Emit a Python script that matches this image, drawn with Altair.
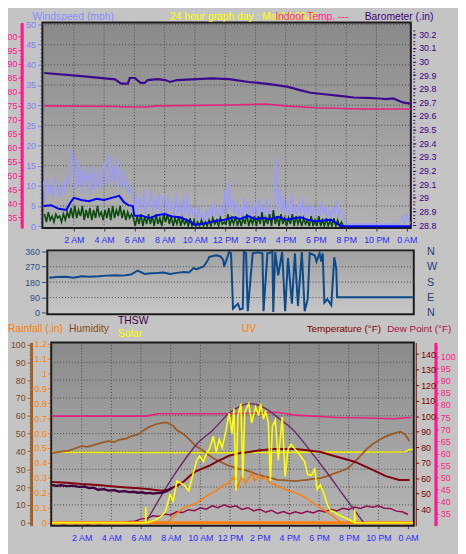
import altair as alt
import pandas as pd

# ===================== DATA =====================
HOUR_TICKS = [2, 4, 6, 8, 10, 12, 14, 16, 18, 20, 22, 24]

# ---- top panel: wind gust (mph), sampled every 7.5 min until 8 PM, then sparse ----
gust_t = [i * 0.125 for i in range(160)] + [20.0, 21.0, 22.0, 23.0, 23.5, 23.7, 23.85, 24.0, 24.15, 24.27]
gust_v = [
    11, 6, 12, 8, 10, 7, 12, 9,
    9, 7, 11, 8, 12, 10, 16, 19,
    12, 9, 17, 10, 14, 8, 15, 11,
    13, 8, 15, 9, 11, 14, 9, 12,
    16, 10, 13, 18, 11, 15, 10, 17,
    12, 9, 14, 10, 11, 8, 10, 7,
    4, 8, 3, 7, 4, 9, 3, 6,
    5, 9, 3, 7, 4, 8, 3, 6,
    8, 3, 7, 4, 6, 2, 8, 3,
    6, 2, 7, 3, 8, 2, 5, 3,
    4, 1, 5, 2, 3, 1, 4, 2,
    5, 2, 6, 3, 4, 2, 5, 3,
    9, 3, 11, 4, 7, 3, 6, 2,
    5, 2, 7, 3, 6, 2, 5, 3,
    6, 2, 7, 3, 5, 2, 7, 3,
    4, 2, 5, 17, 4, 9, 3, 7,
    3, 6, 2, 8, 3, 5, 2, 6,
    3, 7, 2, 5, 3, 6, 2, 4,
    3, 5, 2, 6, 3, 5, 2, 4,
    2, 5, 3, 6, 2, 4, 3, 2,
] + [0.5, 0.5, 0.5, 0.5, 0.5, 2.5, 0.8, 3.0, 1.0, 0.8]

# wind speed (dark green), every 7.5 min
speed_t = [0.0625 + i * 0.125 for i in range(160)]
speed_v = [
    3, 1, 3.5, 1.5, 2.5, 1, 3, 2,
    2.5, 1, 3, 1.5, 3.5, 2, 4.5, 2,
    5, 2, 4, 2.5, 5, 1.5, 4, 2,
    4.5, 1.5, 4, 2, 5, 2.5, 3.5, 1.5,
    4, 2, 4.5, 1.5, 5, 2, 4, 2.5,
    5, 2, 4, 1.5, 3.5, 2, 3, 2,
    0, 2.5, 0.5, 3, 0, 2.5, 0.5, 3,
    0.5, 2.5, 0, 3, 0.5, 2, 0, 3,
    1, 3, 0.5, 2.5, 0, 2, 0.5, 2.5,
    0, 2, 0.5, 1.5, 0, 2, 0, 1.5,
    0, 1, 0, 1.5, 0, 1, 0, 1.5,
    0, 2, 0.5, 1.5, 0, 2, 0.5, 1,
    0.5, 3, 0, 2, 0.5, 2.5, 0, 2,
    0, 2, 0.5, 3, 0, 2, 0.5, 2.5,
    0, 2.5, 0.5, 3.5, 0, 2, 0.5, 3,
    0, 4, 0.5, 2.5, 0, 3, 0.5, 2,
    0, 2, 0.5, 3, 0, 2.5, 0.5, 2,
    0, 2, 0.5, 1.5, 0, 2.5, 0, 1.5,
    0, 2.5, 0, 1.5, 0, 2, 0, 1.5,
    0, 2, 0, 1.5, 0, 1, 0, 0,
]

# average wind (blue)
avg_t = [0, 0.5, 1, 1.5, 1.8, 2, 2.5, 3, 3.5, 4, 4.5, 5, 5.3, 5.6, 5.9, 6.0, 6.5, 7, 7.5, 8,
         8.5, 9, 9.5, 10, 10.5, 11, 11.5, 12, 12.5, 13, 13.5, 14, 14.5, 15, 15.5, 16, 16.5, 17, 17.5, 18,
         18.5, 19, 19.5, 19.7, 24.27]
avg_v = [5.0, 5.2, 4.3, 4.0, 6.0, 7.0, 6.5, 6.2, 6.8, 6.5, 7.0, 7.5, 6.0, 5.2, 5.0, 2.6, 2.6, 2.0, 2.7, 3.0,
         2.4, 2.2, 1.5, 0.3, 0.6, 1.0, 1.4, 1.6, 2.2, 1.8, 2.5, 1.8, 2.0, 1.7, 2.3, 1.6, 1.9, 2.2, 1.5, 1.2,
         1.4, 1.6, 0.4, 0, 0]

# barometer (in)
baro_t = [0.05, 2.52, 4.73, 5.12, 5.57, 5.70, 6.03, 6.23, 6.42, 6.68, 6.88, 7.52, 8.04, 8.36, 8.82, 10.12, 11.09,
          12.26, 13.56, 14.21, 15.18, 16.16, 16.94, 17.65, 18.56, 19.41, 20.51, 21.36, 22.2, 22.65, 23.1, 23.75,
          24.14, 24.27]
baro_v = [29.916, 29.893, 29.869, 29.838, 29.838, 29.879, 29.879, 29.86, 29.843, 29.843, 29.864, 29.871, 29.864,
          29.85, 29.864, 29.871, 29.876, 29.871, 29.85, 29.843, 29.83, 29.814, 29.79, 29.771, 29.76, 29.75, 29.736,
          29.733, 29.729, 29.724, 29.729, 29.70, 29.693, 29.69]

# indoor temperature (F), top panel
itemp_t = [0.05, 4.93, 5.25, 6.88, 7.52, 12.26, 14.66, 15.99, 17.91, 21.16, 24.27]
itemp_v = [75.0, 74.8, 74.6, 74.6, 75.0, 75.3, 75.7, 75.0, 74.3, 73.9, 73.9]

# ---- middle panel: wind direction (deg) ----
wind_dir = [(0.0, 205), (0.5, 210), (1.11, 211), (1.6, 206), (2.16, 214), (2.7, 212), (3.27, 214), (3.8, 218),
            (4.38, 220), (4.9, 218), (5.43, 224), (5.89, 247), (6.34, 228), (6.8, 232), (7.19, 233), (7.6, 236),
            (8.04, 228), (8.5, 234), (8.96, 239), (9.3, 236), (9.61, 262), (9.81, 256), (10.27, 271), (10.5, 300),
            (10.66, 328), (11.12, 337), (11.4, 330), (11.58, 309), (11.64, 271), (11.97, 356), (12.1, 349),
            (12.23, 25), (12.4, 40), (12.56, 54), (12.7, 20), (12.88, 25), (12.95, 356), (13.1, 350), (13.21, 10),
            (13.54, 349), (13.9, 355), (14.19, 349), (14.26, 10), (14.52, 349), (14.85, 356), (14.91, 5),
            (15.04, 356), (15.24, 220), (15.5, 356), (15.7, 10), (15.89, 320), (16.15, 54), (16.35, 349),
            (16.55, 40), (16.81, 356), (17.0, 10), (17.2, 80), (17.33, 349), (17.66, 337), (17.79, 300),
            (17.99, 349), (18.1, 300), (18.2, 349), (18.31, 60), (18.51, 80), (18.77, 45), (18.97, 325),
            (19.1, 260), (19.16, 92), (24.2, 92)]

# ---- bottom panel ----
humidity = [(0.0, 39.0), (0.5, 39.8), (1.1, 40.5), (1.5, 41.5), (2.0, 43.0), (2.4, 42.5), (2.8, 43.5), (3.3, 44.8),
            (3.8, 45.7), (4.2, 45.2), (4.5, 46.5), (5.0, 47.2), (5.3, 48.4), (5.8, 49.5), (6.2, 52.0), (6.5, 53.5),
            (6.8, 54.5), (7.1, 55.5), (7.4, 56.0), (7.7, 56.3), (7.9, 55.5), (8.2, 54.0), (8.4, 52.0), (8.8, 50.0),
            (9.1, 48.0), (9.4, 45.5), (9.7, 43.0), (10.1, 41.0), (10.4, 39.0), (10.9, 36.0), (11.4, 34.0),
            (11.9, 32.0), (12.3, 31.0), (12.6, 30.0), (13.0, 29.5), (13.3, 28.8), (13.8, 27.2), (14.3, 26.0),
            (14.8, 25.0), (15.2, 24.0), (15.8, 23.8), (16.4, 23.4), (16.8, 23.8), (17.2, 24.0), (17.6, 24.6),
            (18.1, 25.0), (18.5, 26.0), (19.0, 27.5), (19.5, 29.0), (19.9, 30.4), (20.2, 32.5), (20.5, 35.0),
            (20.9, 38.5), (21.2, 41.3), (21.6, 44.0), (22.1, 46.7), (22.4, 48.0), (22.7, 49.0), (23.0, 50.0),
            (23.2, 50.5), (23.5, 51.0), (23.8, 49.5), (24.1, 45.7)]
in_humidity = [(0.0, 39.5), (6.0, 39.4), (12.0, 39.3), (18.0, 39.6), (23.8, 39.8), (24.1, 41.0), (24.3, 41.0)]
in_temp2 = [(0.0, 75.4), (6.4, 75.4), (7.1, 76.4), (11.9, 76.4), (13.5, 76.6), (15.2, 77.0), (16.4, 75.8),
            (19.2, 74.8), (21.4, 74.6), (23.0, 74.3), (24.2, 74.8)]
temperature = [(0.0, 57.5), (1.0, 57.0), (2.0, 56.2), (3.1, 55.6), (4.0, 54.8), (5.0, 54.0), (5.8, 53.5),
               (6.4, 53.1), (7.0, 52.4), (7.4, 51.9), (7.8, 52.5), (8.1, 53.8), (8.5, 55.5), (8.9, 58.0),
               (9.3, 61.5), (9.7, 64.4), (10.2, 66.5), (10.6, 68.0), (11.1, 70.6), (11.5, 72.5), (11.9, 74.4),
               (12.6, 76.0), (13.3, 76.9), (14.0, 78.0), (15.0, 78.8), (16.4, 78.8), (17.2, 78.0), (18.1, 76.9),
               (19.2, 73.8), (20.4, 70.6), (21.4, 66.3), (22.5, 61.3), (23.4, 58.8), (24.1, 58.8)]
thsw = [(0.0, 55.6), (0.3, 55.0), (0.6, 55.4), (1.0, 54.9), (1.4, 55.2), (1.8, 54.4), (2.2, 54.6), (2.5, 53.6),
        (2.8, 53.9), (3.1, 52.5), (3.5, 52.9), (3.8, 52.0), (4.2, 52.3), (4.5, 51.3), (4.9, 51.6), (5.2, 51.0),
        (5.5, 51.2), (5.8, 50.6), (6.1, 50.9), (6.3, 50.2), (6.6, 50.5), (6.8, 50.0), (7.1, 50.4), (7.4, 50.6),
        (7.7, 51.4), (7.9, 52.5), (8.1, 53.8)]
dew_t = [i * 0.4 for i in range(61)]
dew_v = [31.0, 31.4, 30.9, 31.3, 31.0, 31.4, 30.9, 31.3, 31.0, 31.5, 31.1, 31.6, 31.3, 31.9, 32.0, 33.0, 33.2,
         34.3, 34.0, 35.0, 34.6, 35.9, 35.6, 36.8, 36.4, 37.6, 37.0, 38.4, 37.6, 38.8, 37.8, 38.4, 36.9, 37.6,
         36.3, 37.0, 35.7, 36.5, 35.2, 36.0, 35.0, 35.9, 35.2, 36.1, 35.4, 36.4, 35.8, 37.0, 36.3, 37.4, 36.9,
         37.9, 37.3, 38.3, 37.8, 38.4, 37.4, 37.3, 36.2, 35.9, 34.8]
solar = [(0.0, 0), (6.31, 0), (6.32, 87), (6.34, 0), (6.64, 5), (6.97, 16), (7.30, 33), (7.63, 60), (7.96, 158),
         (8.16, 120), (8.42, 234), (8.89, 212), (9.22, 179), (9.55, 288), (9.75, 348), (9.95, 375), (10.21, 342),
         (10.41, 390), (10.61, 413), (10.87, 484), (11.07, 397), (11.27, 467), (11.47, 420), (11.74, 522),
         (11.93, 614), (12.13, 500), (12.26, 640), (12.40, 180), (12.53, 600), (12.73, 668), (12.86, 250),
         (12.99, 620), (13.26, 668), (13.46, 560), (13.72, 650), (13.92, 600), (14.06, 668), (14.26, 580),
         (14.39, 630), (14.58, 560), (14.72, 234), (14.85, 540), (15.05, 576), (15.25, 350), (15.52, 592),
         (15.71, 260), (15.91, 413), (16.11, 440), (16.37, 413), (16.70, 380), (17.03, 342), (17.23, 270),
         (17.50, 266), (17.70, 300), (17.88, 185), (18.08, 212), (18.35, 158), (18.55, 103), (18.75, 70),
         (19.02, 60), (19.22, 49), (19.55, 35), (19.88, 22), (20.21, 10), (20.38, 0), (20.41, 76), (20.44, 0),
         (24.3, 0)]
solar_max = [(6.30, 0), (7.10, 114), (8.09, 250), (9.09, 370), (9.75, 440), (10.87, 522), (11.93, 614),
             (12.6, 650), (13.26, 668), (13.9, 660), (14.38, 641), (15.44, 576), (16.24, 522), (17.43, 400),
             (18.36, 300), (19.68, 150), (21.01, 0)]
uv = [(7.76, 0), (8.42, 1.0), (8.89, 1.6), (9.29, 1.8), (9.75, 2.1), (10.21, 2.6), (10.62, 3.0), (11.07, 3.4),
      (11.53, 3.9), (11.93, 4.2), (12.26, 4.8), (12.53, 3.8), (12.79, 4.9), (13.06, 4.2), (13.26, 4.7),
      (13.46, 5.2), (13.66, 4.4), (13.92, 5.0), (14.12, 4.6), (14.38, 4.8), (14.58, 4.4), (14.78, 4.1),
      (15.04, 4.0), (15.44, 3.7), (15.91, 3.4), (16.37, 3.2), (16.77, 2.9), (17.23, 2.5), (17.70, 2.0),
      (18.10, 1.6), (18.56, 1.1), (19.02, 0.6), (19.42, 0.1), (19.7, 0)]
rainfall = [(0.0, 0.0), (24.3, 0.0)]

WIND_TICKS = [0, 5, 10, 15, 20, 25, 30, 35, 40, 45, 50]
ITEMP_TICKS = [35, 40, 45, 50, 55, 60, 65, 70, 75, 80, 85, 90, 95, 100]
BARO_TICKS = [28.8, 28.9, 29.0, 29.1, 29.2, 29.3, 29.4, 29.5, 29.6, 29.7, 29.8, 29.9, 30.0, 30.1, 30.2]
DIR_TICKS = [0, 90, 180, 270, 360]
HUM_TICKS = [0, 10, 20, 30, 40, 50, 60, 70, 80, 90, 100]
RAIN_TICKS = [0, 0.1, 0.2, 0.3, 0.4, 0.5, 0.6, 0.7, 0.8, 0.9, 1.0, 1.1, 1.2]
TEMP_TICKS = [40, 50, 60, 70, 80, 90, 100, 110, 120, 130, 140]
DEW_TICKS = [35, 40, 45, 50, 55, 60, 65, 70, 75, 80, 85, 90, 95, 100]
# minor tick positions
ITEMP_MINOR = [33 + i for i in range(72)]
HUM_MINOR = [i * 2 for i in range(51)]
DEW_MINOR = [31 + i for i in range(74)]
BARO_MINOR = [28.8 + i * 0.025 for i in range(58)]
RAIN_MINOR = [i * 0.025 for i in range(49)]
WIND_MINOR = [i for i in range(51)]

# ===================== LAYOUT =====================
NF = "Liberation Sans Narrow, Liberation Sans, Arial"
TF = "Liberation Sans, Arial"
W, H = 378, 512
K = H / 519.0


def vy(r):
    return (r - 10.0) * K


def vx(r):
    return r - 43.0


def xmap(ha, ra, hb, rb, left, right):
    pa, pb = vx(ra), vx(rb)
    k = (pb - pa) / (hb - ha)
    x0, x1 = vx(left), vx(right)
    return [ha + (x0 - pa) / k, ha + (x1 - pa) / k], [x0, x1]


def ymap(va, ra, vb, rb, top, bottom):
    pa, pb = vy(ra), vy(rb)
    k = (pb - pa) / (vb - va)
    y0, y1 = vy(top), vy(bottom)
    return [va + (y1 - pa) / k, va + (y0 - pa) / k], [y1, y0]


def sc(m):
    return alt.Scale(domain=m[0], range=m[1], nice=False, zero=False)


x_top = xmap(2, 75, 22, 383, 43, 418)
x_dir = xmap(0, 50, 24, 417, 48, 421)
x_bot = xmap(2, 83, 22, 385, 52, 421)
y_wind = ymap(0, 220, 50, 12, 10, 222)
y_itemp = ymap(35, 211, 100, 24, 10, 222)
y_baro = ymap(28.8, 219, 30.2, 22, 10, 222)
y_dir = ymap(0, 309.5, 360, 246, 245, 311)
y_hum = ymap(0, 526, 100, 342, 340, 529)
y_rain = ymap(0, 526, 1.2, 341, 340, 529)
y_temp = ymap(40, 512, 140, 352, 340, 529)
y_dew = ymap(35, 517, 100, 354.5, 340, 529)
y_sol = ymap(0, 526, 1000, 342, 340, 529)
y_uv = ymap(0, 526, 10, 428.1, 340, 529)

TIME_EXPR = ("datum.value == 24 ? '0 AM' : datum.value < 12 ? datum.value + ' AM' : "
             "datum.value == 12 ? '12 PM' : (datum.value - 12) + ' PM'")


def time_axis(offset, pad):
    return alt.Axis(orient='bottom', offset=offset, values=HOUR_TICKS, labelExpr=TIME_EXPR, domain=False,
                    tickColor='#3a3a3a', tickSize=3, labelColor='#2a2aff', labelFont=NF, labelFontSize=9,
                    labelPadding=pad, labelFlush=False, labelOverlap=False, grid=False, title=None)


def yaxis(orient, offset, values, color, tick_color=None, domain=False, dw=1, tsize=4, pad=2, fmt=None,
          font=NF, size=9, expr=None, ticks=True, labels=True):
    kw = dict(orient=orient, offset=offset, values=values, domain=domain, ticks=ticks, labels=labels,
              tickColor=tick_color or color, tickSize=tsize, labelColor=color, labelFont=font,
              labelFontSize=size, labelPadding=pad, labelOverlap=False, grid=False, title=None)
    if domain:
        kw.update(domainColor=color if tick_color is None else tick_color, domainWidth=dw)
    if fmt:
        kw['format'] = fmt
    if expr:
        kw['labelExpr'] = expr
    return alt.Axis(**kw)


def minor(orient, offset, values, color, tsize=2):
    return alt.Axis(orient=orient, offset=offset, values=values, domain=False, labels=False,
                    tickColor=color, tickSize=tsize, grid=False, title=None)


def panel_bg(xm, ym, c_top, c_bot):
    df = pd.DataFrame({'a': [xm[0][0]], 'b': [xm[0][1]], 'c': [ym[0][0]], 'd': [ym[0][1]]})
    grad = alt.LinearGradient(gradient='linear',
                              stops=[alt.GradientStop(color=c_top, offset=0),
                                     alt.GradientStop(color=c_bot, offset=1)],
                              x1=0, x2=0, y1=0, y2=1)
    return alt.Chart(df).mark_rect(fill=grad, stroke='#1c1c1c', strokeWidth=2).encode(
        x=alt.X('a:Q', scale=sc(xm), axis=None), x2='b:Q',
        y=alt.Y('c:Q', scale=sc(ym), axis=None), y2='d:Q')


def hgrid(xm, ym, vals):
    df = pd.DataFrame({'v': vals, 'a': [xm[0][0]] * len(vals), 'b': [xm[0][1]] * len(vals)})
    return alt.Chart(df).mark_rule(color='#4a4a4a', strokeDash=[1, 2], strokeWidth=1).encode(
        y=alt.Y('v:Q', scale=sc(ym), axis=None),
        x=alt.X('a:Q', scale=sc(xm), axis=None), x2='b:Q')


def vgrid(xm, ym, vals):
    df = pd.DataFrame({'v': vals, 'a': [ym[0][0]] * len(vals), 'b': [ym[0][1]] * len(vals)})
    return alt.Chart(df).mark_rule(color='#4a4a4a', strokeDash=[1, 2], strokeWidth=1).encode(
        x=alt.X('v:Q', scale=sc(xm), axis=None),
        y=alt.Y('a:Q', scale=sc(ym), axis=None), y2='b:Q')


def series(t, v, xm, ym, color, width, xaxis=None, yax=None, interp='linear', opacity=1.0):
    df = pd.DataFrame({'t': t, 'v': v})
    return alt.Chart(df).mark_line(color=color, strokeWidth=width, interpolate=interp, opacity=opacity).encode(
        x=alt.X('t:Q', scale=sc(xm), axis=xaxis),
        y=alt.Y('v:Q', scale=sc(ym), axis=yax))


def pairs(p):
    return [a for a, b in p], [b for a, b in p]


def txt(s, x, y, color, size=10.5):
    return alt.Chart(pd.DataFrame({'s': [s]})).mark_text(
        align='left', baseline='alphabetic', font=TF, fontSize=size, color=color).encode(
        text='s:N', x=alt.value(x), y=alt.value(y))


PINK = '#ff1a8c'

layers = [
    panel_bg(x_top, y_wind, '#8a8a8a', '#b2b2b2'),
    panel_bg(x_dir, y_dir, '#a0a0a0', '#c8c8c8'),
    panel_bg(x_bot, y_hum, '#8a8a8a', '#b6b6b6'),
    hgrid(x_top, y_wind, [5, 10, 15, 20, 25, 30, 35, 40, 45, 50]),
    vgrid(x_top, y_wind, [2, 4, 6, 8, 10, 12, 14, 16, 18, 20, 22]),
    hgrid(x_dir, y_dir, [90, 180, 270]),
    hgrid(x_bot, y_hum, [10, 20, 30, 40, 50, 60, 70, 80, 90]),
    vgrid(x_bot, y_hum, [2, 4, 6, 8, 10, 12, 14, 16, 18, 20, 22]),
    # ---- top panel ----
    series(gust_t, gust_v, x_top, y_wind, '#9a9aff', 1.3,
           xaxis=time_axis(vy(222) - H, 5),
           yax=yaxis('left', 1, WIND_TICKS, '#8080ff', tsize=4, pad=2)),
    series(gust_t, gust_v, x_top, y_wind, '#9a9aff', 1, opacity=0.0,
           yax=minor('left', 1, WIND_MINOR, '#8080ff', 2)),
    series(speed_t, speed_v, x_top, y_wind, '#0b4a0b', 1.6),
    series(avg_t, avg_v, x_top, y_wind, '#0000ff', 2),
    series(itemp_t, itemp_v, x_top, y_itemp, '#e8207f', 1.6,
           yax=yaxis('left', -vx(22), ITEMP_TICKS, PINK, domain=True, dw=3, tsize=4, pad=1)),
    series(itemp_t, itemp_v, x_top, y_itemp, '#e8207f', 1, opacity=0.0,
           yax=minor('left', -vx(22), ITEMP_MINOR, PINK, 2)),
    series(baro_t, baro_v, x_top, y_baro, '#3c0a8c', 2.2,
           yax=yaxis('right', vx(420) - W, BARO_TICKS, '#400080', tsize=3, pad=3, fmt='~g')),
    series(baro_t, baro_v, x_top, y_baro, '#3c0a8c', 1, opacity=0.0,
           yax=minor('right', vx(420) - W, BARO_MINOR, '#400080', 2)),
    # ---- direction panel ----
    series(*pairs(wind_dir), x_dir, y_dir, '#0a4a8c', 2,
           yax=yaxis('left', -vx(47), DIR_TICKS, '#2d4f86', tsize=5, pad=2)),
    series(*pairs(wind_dir), x_dir, y_dir, '#0a4a8c', 1, opacity=0.0,
           yax=yaxis('right', vx(421) - W, DIR_TICKS, '#1d3d7d', ticks=False, pad=13, font=TF, size=11,
                     expr="datum.value == 90 ? 'E' : datum.value == 180 ? 'S' : "
                          "datum.value == 270 ? 'W' : 'N'")),
    # ---- bottom panel ----
    series(*pairs(in_humidity), x_bot, y_hum, '#f0f000', 1.6),
    series(*pairs(in_temp2), x_bot, y_dew, '#e8207f', 1.6,
           yax=yaxis('right', vx(443) - W, DEW_TICKS, PINK, domain=True, dw=3, tsize=3, pad=2)),
    series(*pairs(in_temp2), x_bot, y_dew, '#e8207f', 1, opacity=0.0,
           yax=minor('right', vx(443) - W, DEW_MINOR, PINK, 2)),
    series(*pairs(humidity), x_bot, y_hum, '#9c5a26', 1.8,
           xaxis=time_axis(vy(529) - H, 5),
           yax=yaxis('left', -vx(31.5), HUM_TICKS, '#7a4a22', tick_color='#a0602a', domain=True, dw=3,
                     tsize=4, pad=2)),
    series(*pairs(humidity), x_bot, y_hum, '#9c5a26', 1, opacity=0.0,
           yax=minor('left', -vx(31.5), HUM_MINOR, '#a0602a', 2)),
    series(dew_t, dew_v, x_bot, y_dew, '#8e0e4e', 1.5),
    series(*pairs(uv), x_bot, y_uv, '#ff7f00', 1.5),
    series(*pairs(rainfall), x_bot, y_rain, '#ff8000', 3,
           yax=yaxis('left', -vx(51), RAIN_TICKS, '#ff8000', tsize=3, pad=1, fmt='~g')),
    series(*pairs(rainfall), x_bot, y_rain, '#ff8000', 1, opacity=0.0,
           yax=minor('left', -vx(51), RAIN_MINOR, '#ff8000', 1.5)),
    series(*pairs(solar_max), x_bot, y_sol, '#6a2a6a', 1.4, interp='monotone'),
    series(*pairs(temperature), x_bot, y_temp, '#800010', 2,
           yax=yaxis('right', vx(423) - W, TEMP_TICKS, '#800000', domain=True, dw=1, tsize=3, pad=2)),
    series(*pairs(thsw), x_bot, y_temp, '#400040', 2.4),
    series(*pairs(solar), x_bot, y_sol, '#ffff00', 1.6),
    # ---- titles ----
    txt('Windspeed (mph)', vx(33), -2.5, '#8a8aff'),
    txt('24 hour graph day : Mar03 2026', vx(173), -2.5, '#ffff00'),
    txt('Indoor Temp. ---', vx(280), -2.5, '#ff2a8a'),
    txt('Barometer (.in)', vx(371), -2.5, '#400080'),
    txt('Rainfall (.in)', vx(8), vy(329), '#ff8000'),
    txt('Humidity', vx(70), vy(329), '#8a4a14'),
    txt('THSW', vx(120), vy(321), '#400040'),
    txt('Solar', vx(120), vy(334), '#ffff00'),
    txt('UV', vx(246), vy(329), '#ff8000'),
    txt('Temperature (\u00b0F)', vx(312), vy(329), '#800000', 10),
    txt('Dew Point (\u00b0F)', vx(394), vy(329), '#b0103c', 10),
]

chart = alt.layer(*layers).resolve_scale(x='independent', y='independent').properties(
    width=W, height=H,
    autosize=alt.AutoSizeParams(type='none'),
    padding={'left': 35, 'top': 10, 'right': 45, 'bottom': 24},
    background='#c4c4c4',
).configure_view(strokeWidth=0)

chart.save("out.html", embed_options={"renderer": "svg", "actions": False})
